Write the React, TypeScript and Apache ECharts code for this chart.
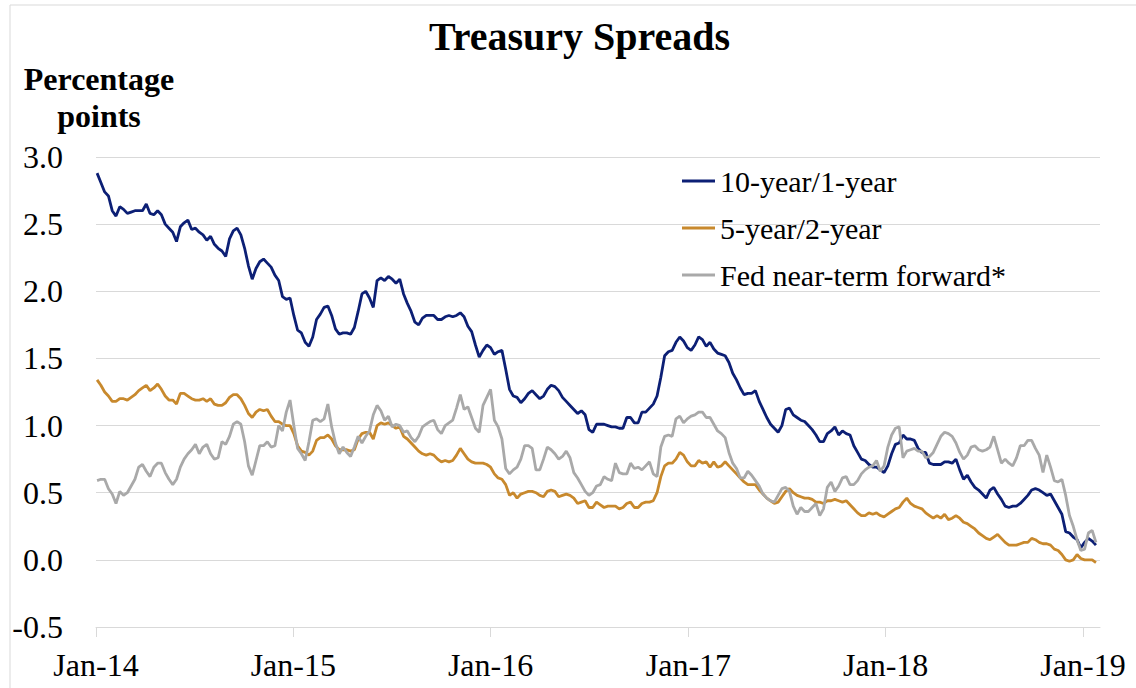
import React, { useEffect, useRef } from "react";
import * as echarts from "echarts";

// Weekly observations, first one on Jan 3, 2014 (index 0)
const tenYearOneYear = [
  2.88, 2.81, 2.74, 2.71, 2.60, 2.56, 2.63, 2.61, 2.58, 2.59,
  2.60, 2.60, 2.60, 2.65, 2.58, 2.57, 2.60, 2.57, 2.50, 2.47,
  2.44, 2.37, 2.48, 2.51, 2.53, 2.46, 2.47, 2.44, 2.42, 2.38,
  2.41, 2.35, 2.32, 2.30, 2.26, 2.39, 2.45, 2.47, 2.42, 2.32,
  2.19, 2.09, 2.17, 2.22, 2.24, 2.21, 2.18, 2.12, 2.08, 1.96,
  1.94, 1.95, 1.82, 1.71, 1.69, 1.62, 1.59, 1.66, 1.79, 1.83,
  1.88, 1.89, 1.82, 1.72, 1.68, 1.69, 1.69, 1.68, 1.73, 1.85,
  1.98, 2.00, 1.95, 1.88, 2.08, 2.10, 2.08, 2.11, 2.09, 2.06,
  2.09, 1.98, 1.91, 1.85, 1.77, 1.75, 1.80, 1.82, 1.82, 1.82,
  1.79, 1.79, 1.81, 1.82, 1.81, 1.82, 1.84, 1.81, 1.74, 1.70,
  1.60, 1.51, 1.56, 1.60, 1.58, 1.53, 1.55, 1.56, 1.42, 1.27,
  1.22, 1.21, 1.17, 1.20, 1.24, 1.26, 1.23, 1.20, 1.22, 1.27,
  1.30, 1.29, 1.26, 1.21, 1.18, 1.15, 1.12, 1.09, 1.11, 1.08,
  0.97, 0.95, 1.01, 1.01, 1.01, 1.00, 0.99, 0.99, 0.98, 0.98,
  1.06, 1.06, 1.02, 1.02, 1.10, 1.10, 1.13, 1.16, 1.22, 1.36,
  1.52, 1.55, 1.56, 1.62, 1.66, 1.63, 1.58, 1.56, 1.60, 1.66,
  1.64, 1.59, 1.62, 1.57, 1.54, 1.53, 1.52, 1.47, 1.39, 1.34,
  1.28, 1.23, 1.24, 1.24, 1.26, 1.18, 1.12, 1.06, 1.01, 0.98,
  0.95, 1.00, 1.12, 1.13, 1.08, 1.06, 1.04, 1.03, 1.00, 0.97,
  0.93, 0.88, 0.88, 0.94, 0.96, 0.99, 0.93, 0.96, 0.94, 0.93,
  0.85, 0.80, 0.75, 0.74, 0.71, 0.69, 0.69, 0.67, 0.65, 0.70,
  0.79, 0.86, 0.87, 0.93, 0.90, 0.90, 0.89, 0.83, 0.80, 0.80,
  0.72, 0.71, 0.71, 0.71, 0.73, 0.73, 0.72, 0.75, 0.67, 0.60,
  0.63, 0.58, 0.54, 0.52, 0.49, 0.46, 0.52, 0.54, 0.49, 0.45,
  0.40, 0.39, 0.40, 0.40, 0.42, 0.45, 0.48, 0.52, 0.53, 0.52,
  0.50, 0.48, 0.49, 0.44, 0.39, 0.34, 0.21, 0.20, 0.17, 0.15,
  0.09, 0.13, 0.16, 0.14, 0.11,
];

const fiveYearTwoYear = [
  1.34, 1.30, 1.25, 1.22, 1.18, 1.18, 1.20, 1.20, 1.19, 1.21,
  1.23, 1.26, 1.28, 1.30, 1.26, 1.28, 1.31, 1.27, 1.22, 1.19,
  1.19, 1.16, 1.24, 1.24, 1.22, 1.20, 1.19, 1.19, 1.20, 1.18,
  1.20, 1.16, 1.15, 1.15, 1.17, 1.21, 1.23, 1.23, 1.20, 1.15,
  1.09, 1.06, 1.10, 1.12, 1.11, 1.12, 1.07, 1.03, 1.03, 1.01,
  1.00, 1.00, 0.94, 0.85, 0.81, 0.80, 0.78, 0.81, 0.89, 0.91,
  0.91, 0.93, 0.90, 0.85, 0.82, 0.82, 0.82, 0.81, 0.82, 0.90,
  0.94, 0.95, 0.95, 0.90, 1.00, 1.02, 1.01, 1.02, 1.00, 0.98,
  0.99, 0.92, 0.90, 0.87, 0.84, 0.81, 0.79, 0.78, 0.79, 0.78,
  0.75, 0.73, 0.74, 0.73, 0.74, 0.78, 0.83, 0.79, 0.75, 0.73,
  0.72, 0.72, 0.72, 0.71, 0.69, 0.64, 0.61, 0.60, 0.56, 0.48,
  0.50, 0.46, 0.49, 0.50, 0.51, 0.51, 0.50, 0.48, 0.47, 0.51,
  0.52, 0.51, 0.47, 0.48, 0.49, 0.48, 0.46, 0.42, 0.43, 0.44,
  0.39, 0.39, 0.43, 0.41, 0.39, 0.40, 0.40, 0.40, 0.38, 0.39,
  0.42, 0.43, 0.39, 0.39, 0.42, 0.43, 0.43, 0.44, 0.50, 0.62,
  0.70, 0.72, 0.72, 0.75, 0.80, 0.78, 0.73, 0.70, 0.70, 0.74,
  0.72, 0.73, 0.69, 0.73, 0.69, 0.70, 0.73, 0.70, 0.67, 0.64,
  0.61, 0.58, 0.56, 0.56, 0.56, 0.52, 0.49, 0.46, 0.44, 0.42,
  0.43, 0.47, 0.51, 0.53, 0.50, 0.48, 0.47, 0.46, 0.46, 0.45,
  0.43, 0.43, 0.42, 0.44, 0.44, 0.45, 0.44, 0.43, 0.44, 0.41,
  0.38, 0.35, 0.33, 0.33, 0.35, 0.34, 0.35, 0.33, 0.32, 0.34,
  0.36, 0.38, 0.39, 0.43, 0.46, 0.42, 0.40, 0.39, 0.38, 0.35,
  0.33, 0.31, 0.33, 0.31, 0.34, 0.30, 0.31, 0.33, 0.31, 0.28,
  0.27, 0.25, 0.23, 0.20, 0.18, 0.16, 0.15, 0.17, 0.19, 0.16,
  0.13, 0.11, 0.11, 0.11, 0.12, 0.13, 0.13, 0.16, 0.15, 0.13,
  0.12, 0.12, 0.11, 0.08, 0.07, 0.04, 0.00, -0.01, 0.00, 0.04,
  0.01, 0.00, 0.00, 0.00, -0.02,
];

const fedNearTermForward = [
  0.59, 0.60, 0.60, 0.53, 0.49, 0.42, 0.51, 0.48, 0.50, 0.55,
  0.60, 0.69, 0.71, 0.66, 0.62, 0.69, 0.72, 0.72, 0.65, 0.60,
  0.56, 0.60, 0.69, 0.75, 0.79, 0.82, 0.86, 0.79, 0.84, 0.86,
  0.79, 0.75, 0.76, 0.88, 0.86, 0.92, 1.01, 1.03, 1.01, 0.88,
  0.70, 0.63, 0.74, 0.85, 0.85, 0.88, 0.84, 0.85, 1.00, 0.96,
  1.10, 1.19, 1.00, 0.83, 0.79, 0.74, 0.88, 1.04, 1.05, 1.03,
  1.05, 1.16, 0.99, 0.87, 0.79, 0.84, 0.80, 0.77, 0.84, 0.92,
  0.87, 0.92, 0.96, 1.08, 1.15, 1.11, 1.04, 1.07, 0.99, 1.01,
  1.00, 0.95, 0.96, 0.91, 0.88, 0.92, 0.99, 1.01, 1.03, 1.04,
  0.97, 0.94, 1.00, 1.02, 1.04, 1.13, 1.23, 1.12, 1.14, 1.06,
  0.98, 0.95, 1.15, 1.21, 1.27, 1.04, 0.99, 0.90, 0.68, 0.64,
  0.67, 0.69, 0.75, 0.85, 0.85, 0.83, 0.67, 0.67, 0.75, 0.84,
  0.82, 0.79, 0.75, 0.77, 0.81, 0.76, 0.65, 0.61, 0.56, 0.51,
  0.48, 0.50, 0.55, 0.56, 0.62, 0.60, 0.59, 0.72, 0.65, 0.64,
  0.64, 0.72, 0.68, 0.69, 0.67, 0.70, 0.73, 0.64, 0.62, 0.84,
  0.92, 0.93, 0.92, 1.05, 1.07, 1.02, 1.05, 1.07, 1.08, 1.10,
  1.10, 1.06, 1.06, 1.01, 0.96, 0.94, 0.91, 0.80, 0.72, 0.68,
  0.61, 0.61, 0.66, 0.63, 0.59, 0.55, 0.49, 0.46, 0.44, 0.43,
  0.48, 0.53, 0.54, 0.51, 0.40, 0.34, 0.39, 0.36, 0.36, 0.39,
  0.42, 0.33, 0.38, 0.54, 0.58, 0.51, 0.55, 0.61, 0.62, 0.56,
  0.56, 0.59, 0.64, 0.67, 0.69, 0.70, 0.74, 0.66, 0.70, 0.84,
  0.93, 0.98, 0.99, 0.76, 0.81, 0.82, 0.83, 0.81, 0.81, 0.76,
  0.77, 0.80, 0.86, 0.92, 0.95, 0.94, 0.92, 0.87, 0.80, 0.75,
  0.78, 0.84, 0.85, 0.82, 0.81, 0.82, 0.84, 0.92, 0.82, 0.72,
  0.75, 0.72, 0.70, 0.76, 0.85, 0.85, 0.89, 0.89, 0.83, 0.78,
  0.65, 0.78, 0.69, 0.59, 0.58, 0.60, 0.48, 0.33, 0.25, 0.15,
  0.07, 0.08, 0.20, 0.22, 0.13,
];

// Jan 1 of each year, in weeks from the first observation (Jan 3, 2014)
const xTickWeeks = [-0.286, 51.857, 104.0, 156.286, 208.429, 260.571];
const xTickLabels = ["Jan-14", "Jan-15", "Jan-16", "Jan-17", "Jan-18", "Jan-19"];
const seriesNames = ["10-year/1-year", "5-year/2-year", "Fed near-term forward*"];
const seriesColors = ["#0c1f75", "#c8892d", "#a9a9a9"];

const FONT = "Liberation Serif";

export default function App() {
  const ref = useRef<HTMLDivElement>(null);
  useEffect(() => {
    if (!ref.current) return;
    const chart = echarts.init(ref.current, undefined, { renderer: "svg" });
    const allData = [tenYearOneYear, fiveYearTwoYear, fedNearTermForward];
    chart.setOption({
      animation: false,
      backgroundColor: "#ffffff",
      textStyle: { fontFamily: FONT },
      title: {
        text: "Treasury Spreads",
        left: 424,
        top: 11,
        textStyle: { fontFamily: FONT, fontSize: 40, fontWeight: "bold", color: "#000" },
      },
      legend: {
        orient: "vertical",
        left: 677,
        top: 161,
        icon: "rect",
        itemWidth: 33,
        itemHeight: 3,
        itemGap: 17,
        data: seriesNames,
        textStyle: { fontFamily: FONT, fontSize: 30, lineHeight: 30, color: "#000" },
      },
      grid: { left: 96, right: 36, top: 157, bottom: 61, containLabel: false },
      xAxis: {
        type: "value",
        min: -0.286,
        max: 265.07,
        splitLine: { show: false },
        axisLine: { show: true, onZero: false, lineStyle: { color: "#d9d9d9", width: 1 } },
        axisTick: {
          show: true,
          customValues: xTickWeeks,
          length: 10,
          lineStyle: { color: "#d9d9d9", width: 1 },
        },
        axisLabel: {
          customValues: xTickWeeks,
          margin: 22,
          fontFamily: FONT,
          fontSize: 32,
          color: "#000",
          formatter: (v: number) => {
            let best = 0;
            xTickWeeks.forEach((w, i) => {
              if (Math.abs(w - v) < Math.abs(xTickWeeks[best] - v)) best = i;
            });
            return xTickLabels[best];
          },
        },
      },
      yAxis: {
        type: "value",
        min: -0.5,
        max: 3,
        interval: 0.5,
        axisLine: { show: false },
        axisTick: { show: false },
        splitLine: { show: true, lineStyle: { color: "#d9d9d9", width: 1 } },
        axisLabel: {
          margin: 33,
          fontFamily: FONT,
          fontSize: 32,
          color: "#000",
          formatter: (v: number) => v.toFixed(1),
        },
      },
      graphic: [
        {
          type: "line",
          shape: { x1: 10, y1: 5, x2: 1136, y2: 5 },
          style: { stroke: "#d9d9d9", lineWidth: 1 },
        },
        {
          type: "line",
          shape: { x1: 10, y1: 5, x2: 10, y2: 688 },
          style: { stroke: "#d9d9d9", lineWidth: 1 },
        },
        {
          type: "text",
          x: 99,
          y: 60,
          style: {
            text: "Percentage\npoints",
            fontFamily: FONT,
            fontSize: 32,
            fontWeight: "bold",
            fill: "#000",
            align: "center",
            verticalAlign: "top",
            lineHeight: 37,
          },
        },
      ],
      series: allData.map((arr, k) => ({
        name: seriesNames[k],
        type: "line",
        showSymbol: false,
        symbol: "none",
        color: seriesColors[k],
        lineStyle: { color: seriesColors[k], width: 2.8 },
        data: arr.map((v, i) => [i, v]),
      })),
    });
    return () => chart.dispose();
  }, []);
  return (
    <div
      ref={ref}
      style={{ position: "fixed", left: 0, top: 0, width: 1136, height: 688 }}
    />
  );
}
